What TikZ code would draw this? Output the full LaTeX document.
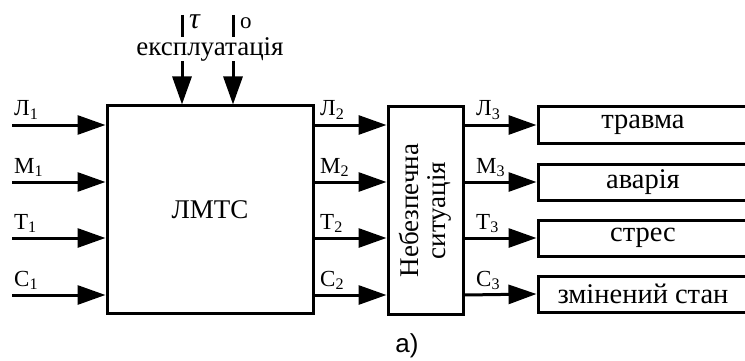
\documentclass[tikz,border=0pt]{standalone}
\usepackage{fontspec}
\setmainfont{Liberation Serif}
\newfontfamily\sansfont{Liberation Sans}
\usetikzlibrary{arrows.meta}

\begin{document}
\begin{tikzpicture}[x=1pt, y=-1pt,
  >={Triangle[length=28pt, width=19pt]},
  arr/.style={->, line width=3pt},
  blk/.style={draw, line width=3pt, inner sep=0pt},
  lbl/.style={anchor=base west, inner sep=0pt, font=\fontsize{23}{26}\selectfont},
  txt/.style={font=\fontsize{27}{30}\selectfont}]

\useasboundingbox (0,0) rectangle (745,361);

% Main blocks
\node[blk, minimum width=206pt, minimum height=207pt, txt] (lmts) at (210,209.5) {ЛМТС};
\node[blk, minimum width=75pt, minimum height=207pt] (nb) at (425.5,210.5) {};
\node[txt, rotate=90, align=center] (nbt) at (nb.center) {Небезпечна\\[-3pt]ситуація};

% Result blocks
\foreach \y/\name/\lab in {125/r1/травма, 182/r2/аварія, 238/r3/стрес, 294/r4/змінений стан} {
  \node[blk, minimum width=210pt, minimum height=36pt, font=\fontsize{28.5}{30}\selectfont] (\name) at (643,\y) {\lab};
}

% Inputs, intermediate and output flows
\foreach \y/\n/\l in {125/1/Л, 182/2/М, 238/3/Т, 295/4/С} {
  \coordinate (in\n) at (12,\y);
  \draw[arr] (in\n) -- (in\n -| lmts.west);
  \draw[arr] (in\n -| lmts.east) -- (in\n -| nb.west);
  \draw[arr] (in\n -| nb.east) -- (r\n.west);
  \node[lbl] (a\n) at (14,\y-9) {\l\textsubscript{1}};
  \node[lbl] (b\n) at (320,\y-9) {\l\textsubscript{2}};
  \node[lbl] (c\n) at (476,\y-9) {\l\textsubscript{3}};
}

% Operation inputs from the top
\coordinate (t1) at (182,15);
\coordinate (t2) at (233,15);
\draw[arr] (t1) -- (t1 |- lmts.north);
\draw[arr] (t2) -- (t2 |- lmts.north);
\node[txt, fill=white, inner sep=0pt] (expl) at (210,49) {експлуатація};
\node[anchor=base west, inner sep=0pt, font=\fontsize{30}{30}\selectfont] (tau) at (189,29) {\textit{τ}};
\node[lbl] (o) at (240,29) {о};

% Caption
\node[font=\sansfont\fontsize{26}{28}\selectfont] (cap) at (407,346) {а)};

\end{tikzpicture}
\end{document}
